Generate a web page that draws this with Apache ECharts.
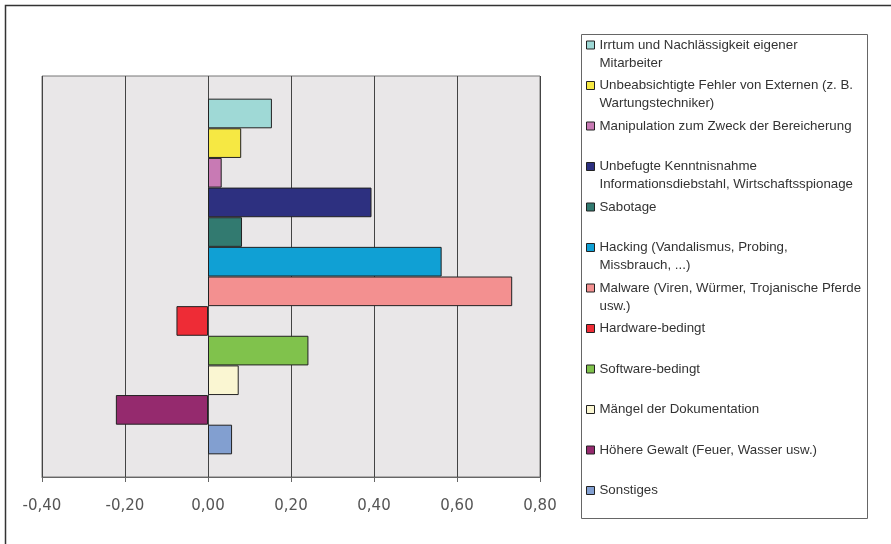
<!DOCTYPE html>
<html>
<head>
<meta charset="utf-8">
<script src="https://cdn.jsdelivr.net/npm/echarts@6/dist/echarts.min.js"></script>
<style>
  html, body { margin: 0; padding: 0; background: #fff; }
  #chart { width: 891px; height: 544px; }
</style>
</head>
<body>
<div id="chart"></div>
<script>
// Single category, one bar per threat type
const categories = [''];

const seriesNames = [
  'Irrtum und Nachlässigkeit eigener\nMitarbeiter',
  'Unbeabsichtigte Fehler von Externen (z. B.\nWartungstechniker)',
  'Manipulation zum Zweck der Bereicherung',
  'Unbefugte Kenntnisnahme\nInformationsdiebstahl, Wirtschaftsspionage',
  'Sabotage',
  'Hacking (Vandalismus, Probing,\nMissbrauch, ...)',
  'Malware (Viren, Würmer, Trojanische Pferde\nusw.)',
  'Hardware-bedingt',
  'Software-bedingt',
  'Mängel der Dokumentation',
  'Höhere Gewalt (Feuer, Wasser usw.)',
  'Sonstiges'
];

const seriesValues = [0.154, 0.080, 0.033, 0.394, 0.082, 0.563, 0.733, -0.076, 0.242, 0.074, -0.222, 0.058];

const axisMin = -0.4;
const axisMax = 0.8;
const axisStep = 0.2;

const barColors = [
  '#9fd9d6', '#f6e843', '#c87ab4', '#2d3080', '#327a70', '#10a0d4',
  '#f39090', '#ee2c36', '#80c24c', '#faf6d2', '#952a6e', '#829fd0'
];

const LINE_H = 18.3;
const FONT = '"Liberation Sans", Arial, sans-serif';

// Legend layout: swatch centres on a fixed pitch, box drawn around them
const LEGEND_X = 586;
const LEGEND_FIRST_Y = 45;
const LEGEND_PITCH = 40.5;
const LEGEND_BOX = { x: 581.5, y: 34.5, w: 286, h: 484 };

const chart = echarts.init(document.getElementById('chart'), null, { renderer: 'canvas' });

const series = seriesNames.map((name, i) => ({
  name: name,
  type: 'bar',
  data: [seriesValues[i]],
  barGap: '0%',
  barCategoryGap: '11.3%',
  itemStyle: { color: barColors[i], borderColor: '#222', borderWidth: 1 },
  emphasis: { disabled: true },
  animation: false
}));

// One legend per entry; wrapped entries get a blank leading line so the
// swatch (centred on the text block) sits level with their first line.
const legends = seriesNames.map((name, i) => {
  const wrapped = name.indexOf('\n') >= 0;
  const centre = LEGEND_FIRST_Y + i * LEGEND_PITCH;
  const blockH = wrapped ? 3 * LINE_H : LINE_H;
  return {
    orient: 'vertical',
    left: LEGEND_X,
    top: centre - blockH / 2,
    padding: 0,
    itemWidth: 8,
    itemHeight: 8,
    icon: 'rect',
    selectedMode: false,
    itemStyle: { borderColor: '#222', borderWidth: 1 },
    textStyle: {
      fontFamily: FONT,
      fontSize: 13.3,
      color: '#333',
      lineHeight: LINE_H
    },
    formatter: n => (n.indexOf('\n') >= 0 ? '\n' + n : n),
    data: [name]
  };
});

chart.setOption({
  animation: false,
  backgroundColor: '#fff',
  graphic: [{
    type: 'rect',
    shape: { x: 5.5, y: 5.5, width: 1200, height: 1200 },
    style: { fill: 'none', stroke: '#333', lineWidth: 1.5 },
    silent: true,
    z: 100
  }, {
    type: 'rect',
    shape: { x: LEGEND_BOX.x, y: LEGEND_BOX.y, width: LEGEND_BOX.w, height: LEGEND_BOX.h },
    style: { fill: 'none', stroke: '#666', lineWidth: 1 },
    silent: true,
    z: 100
  }],
  grid: {
    left: 42, right: 351, top: 76, bottom: 67,
    show: true,
    backgroundColor: '#e9e7e8',
    borderColor: '#777',
    borderWidth: 1
  },
  xAxis: {
    type: 'value',
    min: axisMin,
    max: axisMax,
    interval: axisStep,
    axisLine: { show: true, lineStyle: { color: '#666', width: 1 } },
    axisTick: { show: true, length: 5, lineStyle: { color: '#666' } },
    splitLine: { show: true, lineStyle: { color: '#444', width: 1 } },
    axisLabel: {
      margin: 22,
      fontFamily: '"DejaVu Sans", sans-serif',
      fontSize: 15,
      color: '#555',
      formatter: v => v.toFixed(2).replace('.', ',')
    }
  },
  yAxis: {
    type: 'category',
    data: categories,
    inverse: true,
    axisLine: { show: false },
    axisTick: { show: false },
    axisLabel: { show: false },
    splitLine: { show: false }
  },
  legend: legends,
  series: series
});
</script>
</body>
</html>
